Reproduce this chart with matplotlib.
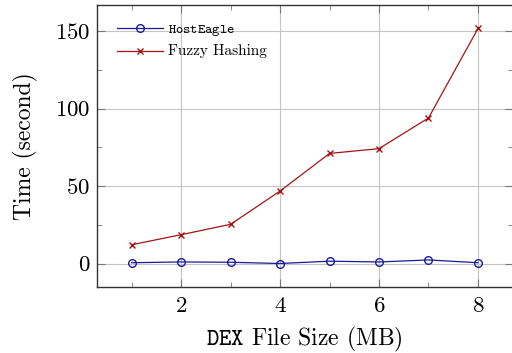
import matplotlib
matplotlib.use("Agg")
import matplotlib.pyplot as plt
from matplotlib.ticker import MultipleLocator

sizes = [1, 2, 3, 4, 5, 6, 7, 8]
hosteagle = [0.5, 1.0, 0.8, 0.0, 1.5, 1.0, 2.3, 0.5]
fuzzy = [12.1, 18.6, 25.3, 46.8, 71.1, 74.2, 94.0, 151.8]

plt.rcParams['font.family'] = ['cmr10', 'DejaVu Serif']
plt.rcParams['mathtext.fontset'] = 'cm'
plt.rcParams['axes.formatter.use_mathtext'] = True

fig = plt.figure(figsize=(5.12, 3.53), dpi=100)
ax = fig.add_axes([97/512, 1-287/353, (512.6-97)/512, (287-5)/353])

blue = '#1a1a99'
red = '#a31515'
ax.plot(sizes, hosteagle, color=blue, lw=0.9, marker='o', ms=5.5, mfc='none',
        mec=blue, mew=1.0, label=r'$\mathtt{HostEagle}$', zorder=3)
ax.plot(sizes, fuzzy, color=red, lw=0.9, marker='x', ms=4, mec=red, mew=1.0,
        label='Fuzzy Hashing', zorder=3)

ax.set_xlim(0.3, 8.7)
ax.set_ylim(-15.18, 166.98)
ax.xaxis.set_major_locator(MultipleLocator(2))
ax.xaxis.set_minor_locator(MultipleLocator(1))
ax.yaxis.set_major_locator(MultipleLocator(50))
ax.yaxis.set_minor_locator(MultipleLocator(25))
ax.grid(True, which='major', color='#c4c4c4', lw=0.8)
ax.set_axisbelow(True)
ax.tick_params(which='both', direction='in', top=True, right=True, labelsize=16.5,
               colors='#777777', labelcolor='black')
ax.tick_params(axis='x', pad=7)
ax.tick_params(axis='y', pad=5)
ax.tick_params(which='major', length=6, width=0.8)
ax.tick_params(which='minor', length=3.5, width=0.6)
for s in ax.spines.values():
    s.set_color('#333333')
    s.set_linewidth(1.0)

ax.set_xlabel(r'$\mathtt{DEX}$ File Size (MB)', fontsize=17, labelpad=6)
ax.set_ylabel('Time (second)', fontsize=17, labelpad=12)

leg = ax.legend(loc='upper left', frameon=False, fontsize=10, handlelength=3.3,
                handletextpad=0.4, borderaxespad=0.0, labelspacing=0.45,
                bbox_to_anchor=(0.035, 0.955))
leg.get_texts()[1].set_fontsize(11)

fig.savefig('out.png', dpi=100)
